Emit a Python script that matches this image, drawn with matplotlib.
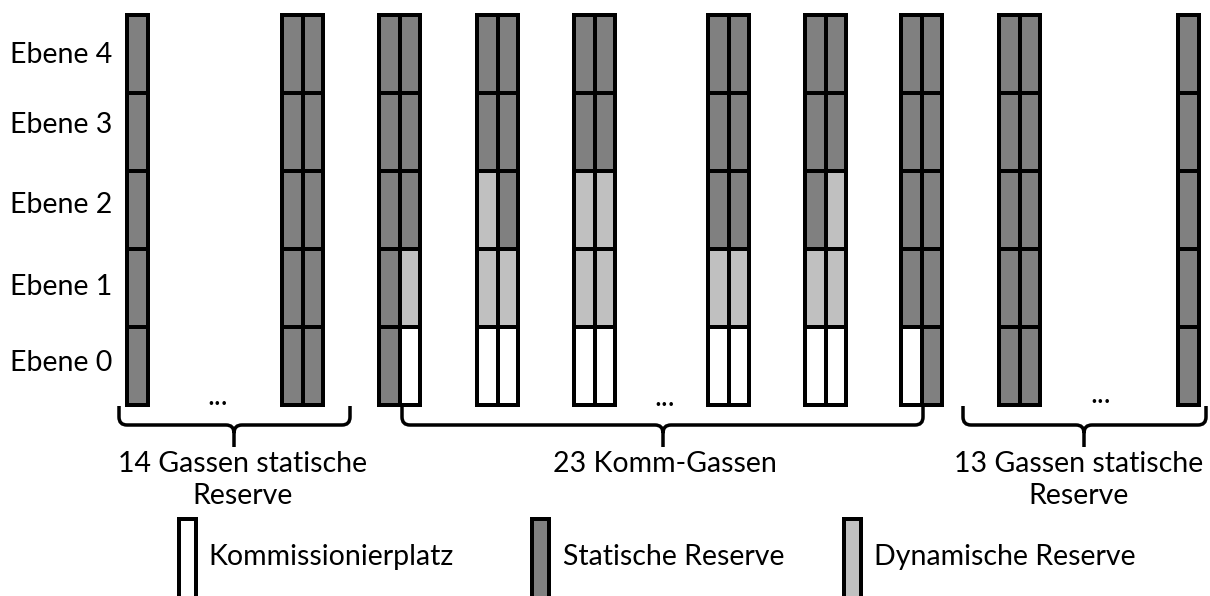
import matplotlib
matplotlib.use("Agg")
import matplotlib.pyplot as plt
from matplotlib.patches import Rectangle, PathPatch
from matplotlib.path import Path
from matplotlib.textpath import TextPath
from matplotlib.font_manager import FontProperties

# ---------------- data ----------------
level_labels = ["Ebene 0", "Ebene 1", "Ebene 2", "Ebene 3", "Ebene 4"]
# cell types per rack column, listed from Ebene 0 (bottom) to Ebene 4 (top)
# S = statische Reserve, D = dynamische Reserve, K = Kommissionierplatz
rack_cells = [
    ["SSSSS"],
    ["SSSSS", "SSSSS"],
    ["SSSSS", "KDSSS"],
    ["KDDSS", "KDSSS"],
    ["KDDSS", "KDDSS"],
    ["KDSSS", "KDSSS"],
    ["KDSSS", "KDDSS"],
    ["KSSSS", "SSSSS"],
    ["SSSSS", "SSSSS"],
    ["SSSSS"],
]
group_labels = ["14 Gassen statische\nReserve", "23 Komm-Gassen", "13 Gassen statische\nReserve"]
legend_codes = ["K", "S", "D"]
legend_labels = ["Kommissionierplatz", "Statische Reserve", "Dynamische Reserve"]
type_colors = {"K": "#FFFFFF", "S": "#808080", "D": "#C0C0C0"}

# ---------------- layout ----------------
W, H = 1210, 596
lane_left = [125, 280, 377, 475, 572, 706, 803, 899, 997, 1176]
lw_px = 4.0
cell_w = 20.5
level_h = 78
y_base = 405
lw = lw_px * 72 / 100
label_x = 112
label_y = [363, 287, 205, 125, 55]
braces = [(119, 350, 234), (402, 923, 663), (963, 1206, 1084)]
dots = [(218, 405), (665, 406), (1101, 403)]
group_text_pos = [(243, 460), (665, 460), (1079, 460)]
legend_box_x = [177, 530, 842]
legend_text_x = [208, 563, 874]

fam = "Lato"
fp = FontProperties(family=fam, size=10)
tw = TextPath((0, 0), "Kommissionierplatz", prop=fp).get_extents().width
fs = 0.975 * 10 * (247 * 72 / 100) / tw  # fit width in px

fig = plt.figure(figsize=(W / 100, H / 100), dpi=100)
ax = fig.add_axes([0, 0, 1, 1])
ax.set_xlim(0, W)
ax.set_ylim(H, 0)
ax.axis("off")

# racks
for left, cols in zip(lane_left, rack_cells):
    x0 = left + lw_px / 2
    for ci, col in enumerate(cols):
        for lev, code in enumerate(col):
            ytop = y_base - level_h * (lev + 1)
            ax.add_patch(Rectangle((x0 + ci * cell_w, ytop), cell_w, level_h,
                                   facecolor=type_colors[code], edgecolor="black",
                                   linewidth=lw, joinstyle="miter"))

# level labels
for lab, y in zip(level_labels, label_y):
    ax.text(label_x, y, lab, ha="right", va="center", fontsize=fs, family=fam)

# braces
def brace(xl, xr, xm, y_top=406, y_bar=425, y_tip=447, r=8):
    verts = [(xl, y_top), (xl, y_bar - r), (xl, y_bar), (xl + r, y_bar),
             (xm - r, y_bar), (xm, y_bar), (xm, y_bar + r), (xm, y_tip),
             (xm, y_bar + r), (xm, y_bar), (xm + r, y_bar),
             (xr - r, y_bar), (xr, y_bar), (xr, y_bar - r), (xr, y_top)]
    codes = [Path.MOVETO, Path.LINETO, Path.CURVE3, Path.CURVE3,
             Path.LINETO, Path.CURVE3, Path.CURVE3, Path.LINETO,
             Path.MOVETO, Path.CURVE3, Path.CURVE3,
             Path.LINETO, Path.CURVE3, Path.CURVE3, Path.LINETO]
    ax.add_patch(PathPatch(Path(verts, codes), facecolor="none",
                           edgecolor="black", linewidth=3.5 * 72 / 100,
                           capstyle="butt"))

for xl, xr, xm in braces:
    brace(xl, xr, xm)

for x, y in dots:
    ax.text(x, y, "...", ha="center", va="baseline", fontsize=fs, family=fam)

for (x, y), lab in zip(group_text_pos, group_labels):
    ax.text(x, y - fs * 0.45, lab, ha="center", va="top", fontsize=fs,
            family=fam, linespacing=1.28)

# legend
for bx, tx, code, lab in zip(legend_box_x, legend_text_x, legend_codes, legend_labels):
    ax.add_patch(Rectangle((bx + lw_px / 2, 517 + lw_px / 2), 21 - lw_px, 100,
                           facecolor=type_colors[code], edgecolor="black",
                           linewidth=lw, joinstyle="miter", clip_on=False))
    ax.text(tx, 557, lab, ha="left", va="center", fontsize=fs, family=fam)

fig.savefig("out.png", dpi=100)
